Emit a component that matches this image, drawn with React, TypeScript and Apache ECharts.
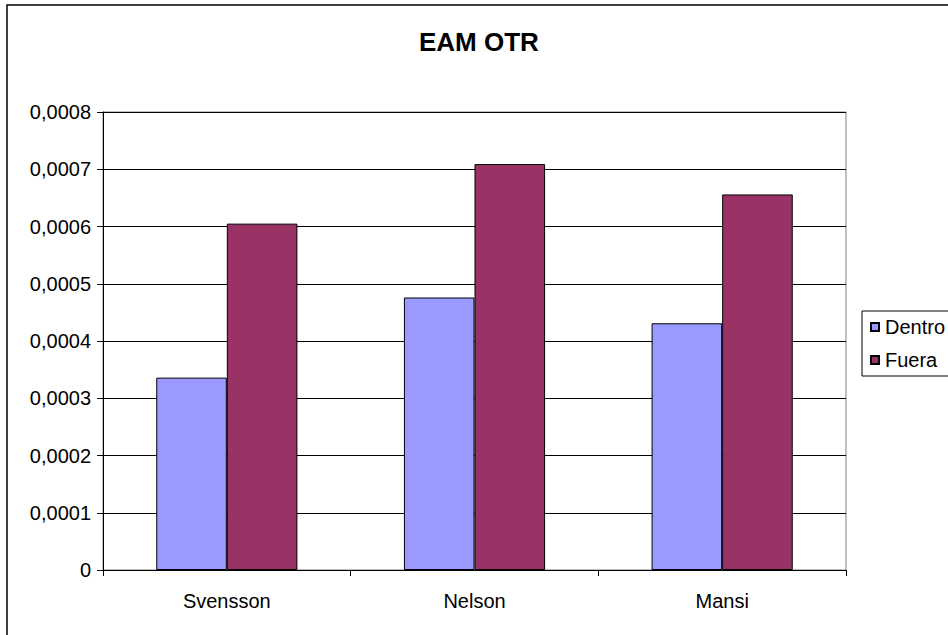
import React, { useEffect, useRef } from "react";
import * as echarts from "echarts";

const categories = ["Svensson", "Nelson", "Mansi"];
const dentro = [0.000336, 0.000476, 0.000431];
const fuera = [0.000605, 0.000709, 0.000656];
const seriesNames = ["Dentro", "Fuera"];
const chartTitle = "EAM OTR";

const FONT = "'Liberation Sans', Arial, sans-serif";

function formatTick(v: number): string {
  if (v === 0) return "0";
  return v.toFixed(4).replace(".", ",");
}

export default function App() {
  const ref = useRef<HTMLDivElement>(null);

  useEffect(() => {
    if (!ref.current) return;
    const chart = echarts.init(ref.current, undefined, { renderer: "svg" });
    chart.setOption({
      animation: false,
      backgroundColor: "#ffffff",
      title: {
        text: chartTitle,
        left: 419,
        top: 29,
        padding: 0,
        textStyle: {
          fontFamily: FONT,
          fontSize: 26,
          fontWeight: "bold",
          color: "#000000",
        },
      },
      graphic: [
        {
          type: "rect",
          shape: { x: 7, y: 5, width: 1000, height: 700 },
          style: { fill: "none", stroke: "#000000", lineWidth: 1.5 },
          silent: true,
        },
      ],
      legend: {
        orient: "vertical",
        left: 862,
        top: 311,
        padding: [6, 40, 6, 8],
        itemGap: 13,
        itemWidth: 8,
        itemHeight: 8,
        icon: "rect",
        borderColor: "#000000",
        borderWidth: 1,
        data: seriesNames,
        textStyle: {
          fontFamily: FONT,
          fontSize: 20,
          color: "#000000",
          padding: [0, 0, 0, 1],
        },
      },
      grid: {
        left: 103,
        top: 112,
        right: 102,
        bottom: 65,
        show: true,
        borderColor: "#808080",
        borderWidth: 1,
        backgroundColor: "transparent",
      },
      xAxis: {
        type: "category",
        data: categories,
        axisLine: { lineStyle: { color: "#000000", width: 1 } },
        axisTick: {
          show: true,
          alignWithLabel: false,
          inside: false,
          length: 6,
          lineStyle: { color: "#000000" },
        },
        axisLabel: {
          margin: 21,
          fontFamily: FONT,
          fontSize: 20,
          color: "#000000",
        },
      },
      yAxis: {
        type: "value",
        min: 0,
        max: 0.0008,
        interval: 0.0001,
        axisLine: { show: true, lineStyle: { color: "#000000", width: 1 } },
        axisTick: {
          show: true,
          inside: false,
          length: 6,
          lineStyle: { color: "#000000" },
        },
        splitLine: { show: true, lineStyle: { color: "#000000", width: 1 } },
        axisLabel: {
          margin: 12,
          fontFamily: FONT,
          fontSize: 20,
          color: "#000000",
          formatter: (v: number) => formatTick(v),
        },
      },
      series: [
        {
          name: seriesNames[0],
          type: "bar",
          data: dentro,
          barGap: "0%",
          barCategoryGap: "43%",
          itemStyle: { color: "#9999FF", borderColor: "#000000", borderWidth: 1 },
        },
        {
          name: seriesNames[1],
          type: "bar",
          data: fuera,
          barGap: "0%",
          barCategoryGap: "43%",
          itemStyle: { color: "#993366", borderColor: "#000000", borderWidth: 1 },
        },
      ],
    });
    return () => chart.dispose();
  }, []);

  return (
    <div
      ref={ref}
      style={{ position: "fixed", left: 0, top: 0, width: 948, height: 635 }}
    />
  );
}
